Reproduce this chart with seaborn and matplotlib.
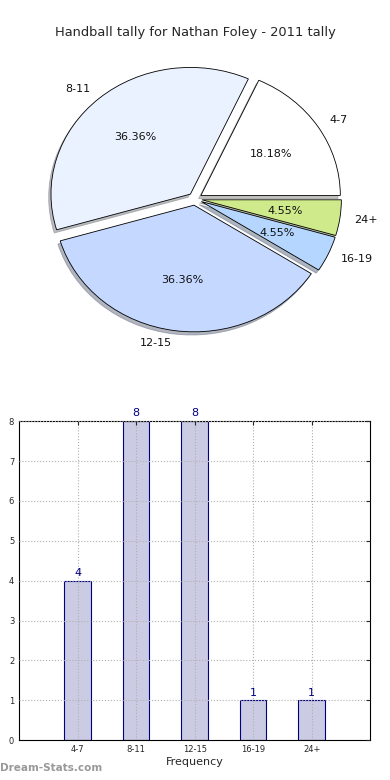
import matplotlib
matplotlib.use("Agg")
import matplotlib.pyplot as plt
import seaborn as sns
import pandas as pd

# chart data
categories = ["4-7", "8-11", "12-15", "16-19", "24+"]
counts = [4, 8, 8, 1, 1]
slice_colors = ["#ffffff", "#eaf1ff", "#c5d8ff", "#b4d6ff", "#cfea8a"]

sns.set_style("white")
plt.rcParams['font.family'] = ['DejaVu Sans']

fig = plt.figure(figsize=(3.9, 7.8), dpi=100)

# pie on top
ax1 = fig.add_axes([0.053, 0.542, 0.894, 0.406])
wedges, texts, autotexts = ax1.pie(
    counts, labels=categories, colors=slice_colors, autopct="%.2f%%",
    explode=[0.05] * len(counts),
    shadow=dict(ox=-0.012, oy=-0.018, shade=0.5), startangle=0,
    wedgeprops=dict(edgecolor="black", linewidth=0.6),
    textprops=dict(fontsize=8, color="#111111"))
ax1.set_aspect("auto")
ax1.set_title("Handball tally for Nathan Foley - 2011 tally", fontsize=9.4, pad=3)

# bar chart below
df = pd.DataFrame({"cat": categories, "count": counts})
ax2 = fig.add_axes([0.049, 0.051, 0.9, 0.409])
sns.barplot(data=df, x="cat", y="count", order=categories, width=0.45,
            color="#cbcbe3", edgecolor="navy", linewidth=0.8, saturation=1, ax=ax2)
for c in ax2.containers:
    ax2.bar_label(c, padding=2, color="navy", fontsize=8)
ax2.set_xlim(-1, 5)
ax2.set_ylim(0, 8)
ax2.set_yticks(range(0, 9))
ax2.grid(True, linestyle=":", color="#b0b0b0", linewidth=0.8)
ax2.set_axisbelow(False)
for s in ax2.spines.values():
    s.set_visible(True)
    s.set_color("black")
    s.set_linewidth(0.8)
ax2.tick_params(direction="in", top=True, right=True, length=3, labelsize=6)
ax2.set_xlabel("Frequency", fontsize=8, labelpad=2)
ax2.set_ylabel("Stat Intervals", fontsize=8, labelpad=4)

fig.text(0.0, 0.012, "Dream-Stats.com", fontsize=7.5, color="#999999", fontweight="bold")

fig.savefig("out.png", dpi=100)
